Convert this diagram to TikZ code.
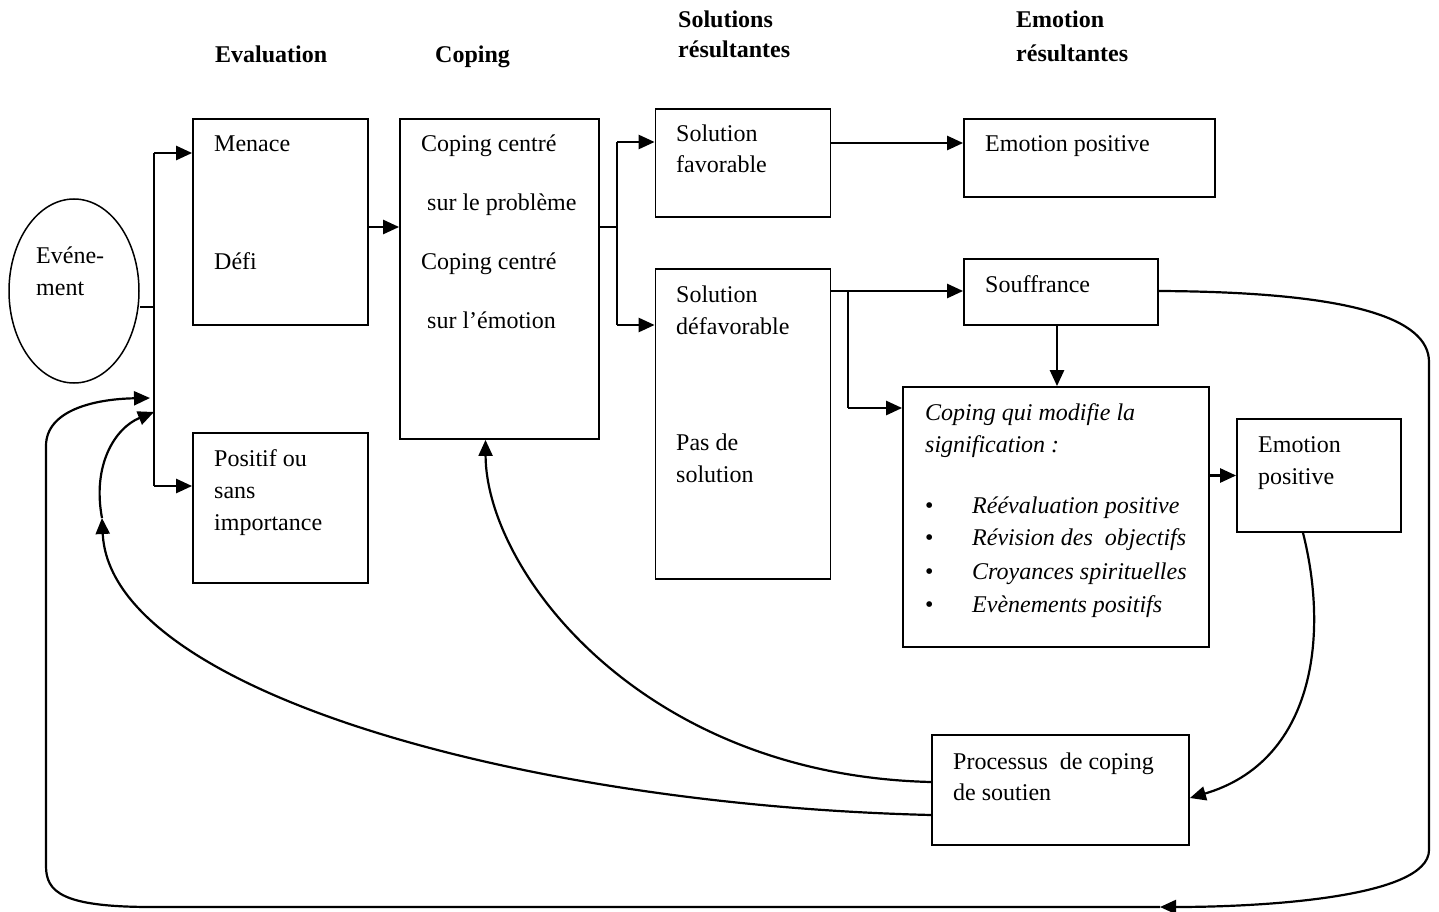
\documentclass[tikz,border=0pt]{standalone}
\usepackage{fontspec}
\setmainfont{Liberation Serif}
\usetikzlibrary{arrows.meta,shapes.geometric}
\begin{document}
\begin{tikzpicture}[x=1pt,y=-1pt,
  box/.style={draw, line width=1.8pt, rectangle, inner sep=0pt},
  conn/.style={line width=2.6pt},
  curveconn/.style={line width=2.2pt},
  thinconn/.style={line width=1.5pt},
  arr/.style={conn, -{Triangle[length=16pt,width=14pt]}},
  carr/.style={curveconn, -{Triangle[length=16pt,width=14pt]}},
  txt/.style={anchor=base west, inner sep=0pt, font=\fontsize{24}{32}\selectfont},
  itxt/.style={txt, font=\fontsize{24}{32}\selectfont\itshape},
  head/.style={txt, font=\fontsize{24}{32}\selectfont\bfseries}]
\useasboundingbox (0,0) rectangle (1439,912);

% column headings
\node[head] (h1) at (215,63) {Evaluation};
\node[head] (h2) at (435,63) {Coping};
\node[head] (h3) at (678,28) {Solutions};
\node[head] (h4) at (678,58) {résultantes};
\node[head] (h5) at (1016,28) {Emotion};
\node[head] (h6) at (1016,62) {résultantes};

% event
\node[draw, line width=1.5pt, ellipse, minimum width=130pt, minimum height=184pt, inner sep=0pt] (ev) at (74,291) {};
\node[txt] (tev1) at (36,263) {Evéne-};
\node[txt] (tev2) at (36,295) {ment};

% boxes
\node[box, minimum width=175pt, minimum height=206pt] (menace) at (280.5,222) {};
\node[box, minimum width=175pt, minimum height=150pt] (pos) at (280.5,508) {};
\node[box, minimum width=199pt, minimum height=320pt] (cop) at (499.5,279) {};
\node[box, minimum width=175pt, minimum height=108pt] (fav) at (743,163) {};
\node[box, minimum width=175pt, minimum height=310pt] (def) at (743,424) {};
\node[box, minimum width=251pt, minimum height=78pt] (emo1) at (1089.5,158) {};
\node[box, minimum width=194pt, minimum height=66pt] (souf) at (1061,292) {};
\node[box, minimum width=306pt, minimum height=260pt] (cqm) at (1056,517) {};
\node[box, minimum width=164pt, minimum height=113pt] (emo2) at (1319,475.5) {};
\node[box, minimum width=257pt, minimum height=110pt] (proc) at (1060.5,790) {};

% box texts
\node[txt] (tm1) at (214,152) {Menace};
\node[txt] (tm2) at (214,269) {Défi};
\node[txt] (tp1) at (214,466) {Positif ou};
\node[txt] (tp2) at (214,498) {sans};
\node[txt] (tp3) at (214,530) {importance};
\node[txt] (tc1) at (421,152) {Coping centré};
\node[txt] (tc2) at (427,210) {sur le problème};
\node[txt] (tc3) at (421,269) {Coping centré};
\node[txt] (tc4) at (427,328) {sur l’émotion};
\node[txt] (tf1) at (676,142) {Solution};
\node[txt] (tf2) at (676,173) {favorable};
\node[txt] (td1) at (676,302) {Solution};
\node[txt] (td2) at (676,334) {défavorable};
\node[txt] (td3) at (676,450) {Pas de};
\node[txt] (td4) at (676,482) {solution};
\node[txt] (te1) at (985,152) {Emotion positive};
\node[txt] (ts1) at (985,292) {Souffrance};
\node[itxt] (tq1) at (925,420) {Coping qui modifie la};
\node[itxt] (tq2) at (925,452) {signification :};
\node[txt] (b1) at (925,513) {\textbullet};
\node[txt] (b2) at (925,545) {\textbullet};
\node[txt] (b3) at (925,579) {\textbullet};
\node[txt] (b4) at (925,612) {\textbullet};
\node[itxt] (tq3) at (972,513) {Réévaluation positive};
\node[itxt] (tq4) at (972,545) {Révision des~ objectifs};
\node[itxt] (tq5) at (972,579) {Croyances spirituelles};
\node[itxt] (tq6) at (972,612) {Evènements positifs};
\node[txt] (tg1) at (1258,452) {Emotion};
\node[txt] (tg2) at (1258,484) {positive};
\node[txt] (tr1) at (953,769) {Processus~ de coping};
\node[txt] (tr2) at (953,800) {de soutien};

% junction points
\coordinate (j) at (154,307);
\coordinate (jt) at (154,153);
\coordinate (jb) at (154,486);
\coordinate (k) at (617,227);
\coordinate (kt) at (617,142);
\coordinate (kb) at (617,325);
\coordinate (br) at (848,291);
\coordinate (br2) at (848,408);
\coordinate (mid) at (102,518);
\coordinate (loop) at (1160,907);

% evaluation fan-out
\draw[thinconn] (ev.east |- j) -- (j);
\draw[thinconn] (jt) -- (jb);
\draw[arr] (jt) -- (jt -| menace.west);
\draw[arr] (jb) -- (jb -| pos.west);

% evaluation to coping
\draw[arr] ([yshift=-5pt]menace.east) -- ([yshift=-5pt]menace.east -| cop.west);

% coping to outcomes
\draw[thinconn] (cop.east |- k) -- (k);
\draw[conn] (kt) -- (kb);
\draw[arr] (kt) -- (kt -| fav.west);
\draw[arr] (kb) -- (kb -| def.west);

% outcomes to emotions
\draw[arr] ([yshift=20pt]fav.east) -- ([yshift=20pt]fav.east -| emo1.west);
\draw[arr] (br -| def.east) -- (br -| souf.west);
\draw[conn] (br) -- (br2);
\draw[arr] (br2) -- (br2 -| cqm.west);
\draw[arr] ([xshift=-4pt]souf.south) -- ([xshift=-4pt]souf.south |- cqm.north);
\draw[arr] (emo2.west -| cqm.east) -- (emo2.west);

% feedback from positive emotion to support coping
\draw[carr] ([xshift=-16pt]emo2.south) .. controls (1330,640) and (1312,762) .. ([yshift=-8pt]proc.east);

% support coping back to coping and to evaluation
\draw[carr] ([yshift=8pt]proc.west) .. controls (640,775) and (486,570) .. ([xshift=-14pt]cop.south);
\draw[carr] ([yshift=-25pt]proc.west) .. controls (520,805) and (110,690) .. (mid);
\draw[carr] (mid) .. controls (92,465) and (115,428) .. (154,412);

% suffering loop back to the event
\draw[carr] ([yshift=1pt]souf.east) .. controls (1350,292) and (1429,318) .. (1429,362) -- (1429,850) .. controls (1429,898) and (1260,907) .. (loop);
\draw[carr] (loop) -- (152,907) .. controls (62,907) and (46,892) .. (46,866) -- (46,446) .. controls (46,410) and (95,399) .. (150,398);
\end{tikzpicture}
\end{document}
